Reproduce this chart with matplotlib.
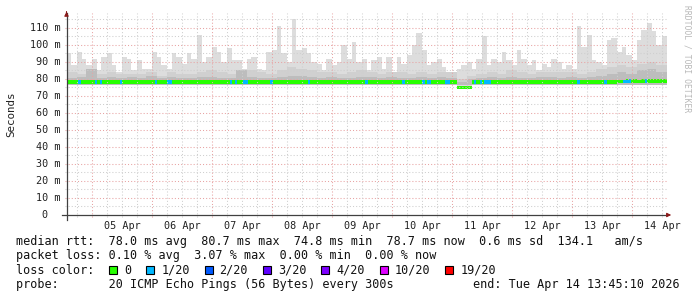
import datetime as dt
import matplotlib
matplotlib.use('Agg')
import matplotlib.pyplot as plt
import matplotlib.dates as mdates
from matplotlib.patches import Rectangle
import numpy as np

# --- data (10 days ending Tue Apr 14 13:45:10 2026) ---
end_time = dt.datetime(2026, 4, 14, 13, 45, 10)
start_time = end_time - dt.timedelta(days=10)

# top of the smoke (max rtt, ms), one value per 2 hours
smoke_max = [95, 88, 96, 92, 88, 92, 85, 93, 95, 88,
             84, 93, 92, 85, 91, 86, 86, 96, 93, 88,
             86, 95, 93, 89, 95, 92, 106, 90, 93, 99,
             96, 90, 98, 91, 91, 86, 92, 93, 86, 85,
             96, 97, 111, 95, 90, 115, 97, 98, 95, 90,
             89, 85, 92, 88, 90, 100, 92, 102, 90, 92,
             85, 91, 93, 86, 93, 84, 93, 89, 94, 100,
             107, 97, 88, 90, 92, 87, 83, 84, 86, 88,
             90, 86, 92, 105, 88, 92, 90, 96, 91, 88,
             97, 92, 88, 91, 85, 89, 87, 92, 90, 86,
             88, 86, 111, 99, 106, 91, 90, 88, 103, 104,
             96, 99, 94, 91, 103, 109, 113, 108, 100, 105]

# inner smoke bands (ms), one value per 4 hours
smoke_mid = [84, 83, 85, 83, 84, 83, 83, 83, 84, 82,
             84, 83, 83, 84, 85, 84, 83, 84, 85, 84,
             83, 85, 87, 86, 85, 84, 84, 83, 84, 85,
             84, 83, 84, 84, 83, 84, 83, 84, 84, 80,
             82, 83, 84, 83, 85, 84, 83, 84, 84, 84,
             84, 83, 84, 86, 87, 88, 87, 89, 90, 88]
smoke_dark = [80.5, 81, 86, 80.5, 81, 80.5, 81, 80.5, 82, 80.5,
              81, 80.5, 80.5, 81, 81, 80.5, 80.5, 85, 81, 80.5,
              80.5, 81, 82, 82, 81, 80.5, 81, 80.5, 80.5, 81,
              81, 80.5, 81, 80.5, 80.5, 81, 80.5, 81, 80.5, 78,
              80, 80.5, 81, 80.5, 81, 80.5, 80.5, 81, 81, 80.5,
              81, 80.5, 81, 82, 83, 84, 83, 85, 86, 84]

# median rtt (ms), one value per 2 hours
median = [78.3, 78.3, 78.2, 78.1, 78.1, 78.2, 78.3, 78.3, 78.3, 78.3,
          78.2, 78.3, 78.3, 78.3, 78.3, 78.3, 78.4, 78.3, 78.3, 78.3,
          78.3, 78.3, 78.3, 78.3, 78.3, 78.3, 78.3, 78.3, 78.3, 78.3,
          78.3, 78.3, 78.3, 78.3, 78.3, 78.3, 78.3, 78.3, 78.3, 78.3,
          78.3, 78.3, 78.3, 78.3, 78.3, 78.3, 78.3, 78.3, 78.3, 78.3,
          78.3, 78.3, 78.3, 78.3, 78.3, 78.3, 78.3, 78.3, 78.3, 78.3,
          78.3, 78.3, 78.3, 78.3, 78.3, 78.3, 78.3, 78.3, 78.3, 78.3,
          78.3, 78.3, 78.3, 78.3, 78.3, 78.3, 78.3, 78.3, 75.0, 75.0,
          75.0, 78.0, 78.3, 78.3, 78.3, 78.3, 78.3, 78.3, 78.3, 78.3,
          78.3, 78.3, 78.3, 78.3, 78.3, 78.3, 78.3, 78.3, 78.3, 78.3,
          78.3, 78.3, 78.3, 78.3, 78.3, 78.3, 78.3, 78.3, 78.3, 78.3,
          78.5, 78.5, 78.6, 78.6, 78.5, 78.6, 78.7, 78.7, 78.6, 78.7]

# hours (after start) with 1/20 packets lost
loss_hours = [4.6, 11.3, 13.3, 21.3, 35.3, 40.0, 41.0, 65.3, 67.3, 70.5,
              71.5, 81.5, 96.4, 119.5, 134.3, 142.2, 144.0, 145.0, 151.5, 152.5,
              163.0, 165.3, 166.8, 167.8, 168.8, 204.3, 215.1, 222.6, 223.6,
              224.6, 231.2]

loss_labels = ['0', '1/20', '2/20', '3/20', '4/20', '10/20', '19/20']
loss_colors = ['#26ff00', '#00b8ff', '#0059ff', '#5e00ff', '#7e00ff', '#dd00ff', '#ff0000']

stats_rtt = "median rtt:  78.0 ms avg  80.7 ms max  74.8 ms min  78.7 ms now  0.6 ms sd  134.1   am/s"
stats_loss = "packet loss: 0.10 % avg  3.07 % max  0.00 % min  0.00 % now"
probe_txt = "probe:       20 ICMP Echo Pings (56 Bytes) every 300s"
end_txt = "end: Tue Apr 14 13:45:10 2026"

# --- figure ---
W, H = 697, 297
fig = plt.figure(figsize=(W / 100, H / 100), dpi=100)
fig.patch.set_facecolor('white')
x0, x1, ytop, ybot = 66.5, 666.5, 13.3, 215.0
ax = fig.add_axes([x0 / W, 1 - ybot / H, (x1 - x0) / W, (ybot - ytop) / H])
ymax = 118.6

mono = 'DejaVu Sans Mono'
t0 = mdates.date2num(start_time)


def hrs(h):
    return t0 + np.asarray(h, dtype=float) / 24.0


def stepfill(vals, width_h, lo, color):
    v = np.asarray(vals, dtype=float)
    xs = hrs(np.arange(len(v) + 1) * width_h)
    lo = np.asarray(lo, dtype=float)
    if lo.ndim:
        lo = np.append(lo, lo[-1])
    ax.fill_between(xs, lo, np.append(v, v[-1]), step='post', color=color, lw=0)


med = np.asarray(median)
stepfill(smoke_max, 2, med - 1.0, '#dddddd')
stepfill(smoke_mid, 4, 76.5, '#d0d0d0')
stepfill(smoke_dark, 4, 76.5, '#bdbdbd')
# median line coloured by loss
stepfill(med + 1.1, 2, med - 1.1, loss_colors[0])
for h in loss_hours:
    m = med[int(h // 2)]
    ax.fill_between(hrs([h, h + 1]), m - 1.1, m + 1.1, color=loss_colors[1], lw=0)

ax.set_xlim(hrs(0), hrs(240))
ax.set_ylim(0, ymax)
for s in ax.spines.values():
    s.set_visible(False)
ax.set_xticks([])
ax.set_yticks([])

# grid (drawn over the graph like rrdtool)
minor_c, major_c = '#cfcfcf', '#e8a3a3'
dot = (0, (1, 2))
for v in range(5, 120, 10):
    ax.plot([hrs(-0.8), hrs(240)], [v, v], color=minor_c, lw=0.75, ls=dot, clip_on=False, zorder=5)
for v in range(10, 120, 10):
    ax.plot([hrs(-0.8), hrs(240)], [v, v], color=major_c, lw=0.75, ls=dot, clip_on=False, zorder=5)
t = dt.datetime(2026, 4, 4, 18)
while t < end_time:
    xv = mdates.date2num(t)
    col = major_c if t.hour == 0 else minor_c
    ax.plot([xv, xv], [-1.4, ymax], color=col, lw=0.75, ls=dot, clip_on=False, zorder=5)
    t += dt.timedelta(hours=6)

# axes with arrows
axis_c = '#404040'
ax.plot([hrs(-1.8), hrs(240)], [0, 0], color=axis_c, lw=0.9, clip_on=False, zorder=6)
ax.plot([hrs(0), hrs(0)], [-2.9, ymax], color=axis_c, lw=0.9, clip_on=False, zorder=6)
ax.annotate('', xy=(hrs(243), 0), xytext=(hrs(239), 0),
            arrowprops=dict(arrowstyle='-|>', color='#8b1a1a', lw=0.8, mutation_scale=6),
            annotation_clip=False, zorder=7)
ax.annotate('', xy=(hrs(0), ymax + 2.6), xytext=(hrs(0), ymax - 1),
            arrowprops=dict(arrowstyle='-|>', color='#8b1a1a', lw=0.8, mutation_scale=6),
            annotation_clip=False, zorder=7)

# tick labels
for d in range(5, 15):
    xv = mdates.date2num(dt.datetime(2026, 4, d, 12))
    ax.text(xv, -8.0, '%02d Apr' % d, ha='center', va='baseline', fontsize=7.3,
            family=mono, color='#222222')
for v in range(0, 111, 10):
    lab = '0' if v == 0 else '%d m' % v
    xoff = -0.031 if v == 0 else -0.0105
    ax.text(xoff, v, lab, transform=ax.get_yaxis_transform(), ha='right', va='center',
            fontsize=7.3, family=mono, color='#222222')

fig.text(11 / W, 1 - 114 / H, 'Seconds', rotation=90, ha='center', va='center',
         fontsize=7.8, family=mono, color='#222222')
fig.text(687 / W, 1 - 5 / H, 'RRDTOOL / TOBI OETIKER', rotation=270, ha='center', va='top',
         fontsize=5.8, family=mono, color='#b8b8b8')

# legend / statistics
fs = 8.5
cw = 7.1


def ftext(x, y, s, **kw):
    fig.text(x / W, 1 - y / H, s, family=mono, fontsize=fs, va='baseline', color='#111111', **kw)


ftext(16, 245, stats_rtt)
ftext(16, 259.3, stats_loss)
ftext(16, 273.5, "loss color:")
ftext(16, 287.7, probe_txt)
ftext(680, 287.7, end_txt, ha='right')

bx = 16 + 11 * cw + 15
for lab, c in zip(loss_labels, loss_colors):
    fig.patches.append(Rectangle((bx / W, 1 - 273.5 / H), 8 / W, 8 / H, transform=fig.transFigure,
                                 facecolor=c, edgecolor='black', lw=0.8, figure=fig))
    ftext(bx + 15, 273.5, lab)
    bx = bx + 15 + len(lab) * cw + 15

fig.savefig('out.png', dpi=100)
